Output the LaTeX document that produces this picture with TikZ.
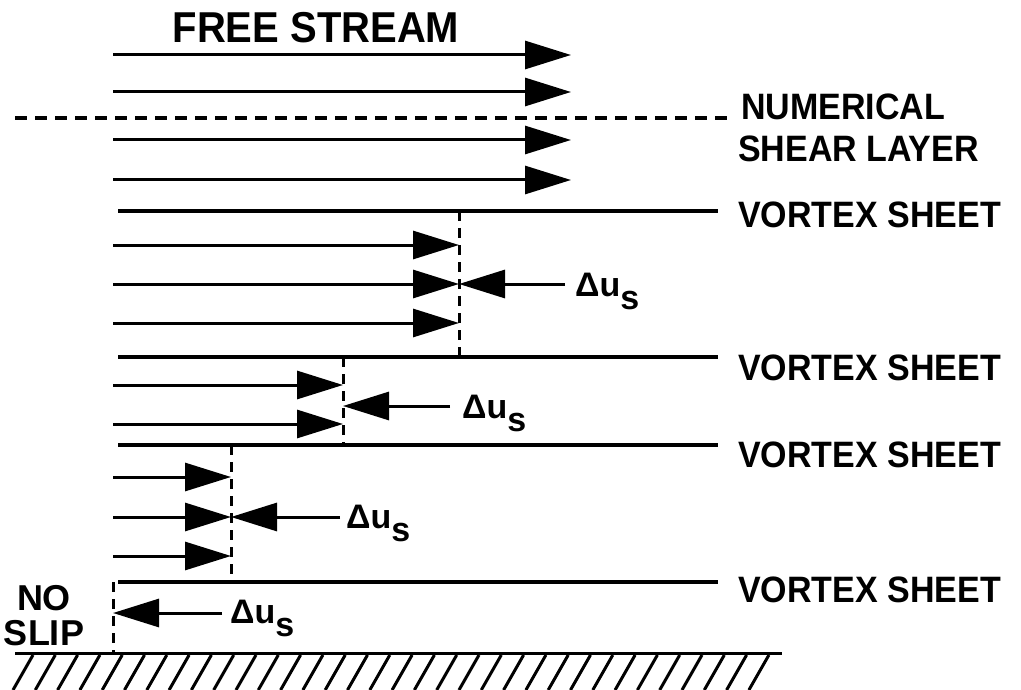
\documentclass[tikz,border=0pt]{standalone}
\usepackage{fontspec}
\setmainfont{Liberation Sans}
\usetikzlibrary{arrows.meta}
\newcommand{\dus}{Δu\raisebox{-13pt}{s}}
\newcommand{\tall}[1]{\scalebox{1}[1.08]{#1}}
\begin{document}
\begin{tikzpicture}[x=1pt,y=-1pt,
  flow/.style={line width=3pt,-{Triangle[length=46pt,width=28pt]}},
  sheet/.style={line width=3.5pt},
  shear/.style={line width=4pt,dash pattern=on 12pt off 8pt},
  slip/.style={line width=3pt,dash pattern=on 10pt off 7pt},
  wall/.style={line width=3pt},
  lbl/.style={inner sep=0pt,anchor=base west,font=\bfseries\fontsize{34}{40}\selectfont},
]
\useasboundingbox (0,0) rectangle (1021,690);

% free stream above the shear layer
\node[lbl,anchor=base,font=\bfseries\fontsize{40}{44}\selectfont] (fs) at (316,43) {\tall{FREE STREAM}};
\foreach \y [count=\i] in {55,92,140,180}{
  \coordinate (fa\i) at (113,\y);
  \coordinate (fb\i) at (571,\y);
  \draw[flow] (fa\i) -- (fb\i);
}
\coordinate (sh0) at (15,118);
\coordinate (sh1) at (728,118);
\draw[shear] (sh0) -- (sh1);
\node[lbl] (nsl1) at (741,120) {\tall{NUMERICAL}};
\node[lbl] (nsl2) at (738,162) {\tall{SHEAR LAYER}};

% vortex sheets
\foreach \y/\b [count=\i] in {211/228,357/380,445/467,582/602}{
  \coordinate (va\i) at (118,\y);
  \coordinate (vb\i) at (718,\y);
  \draw[sheet] (va\i) -- (vb\i);
  \node[lbl] (vl\i) at (738,\b) {\tall{VORTEX SHEET}};
}

% layer between sheets 1 and 2
\coordinate (d1a) at (459,211);
\coordinate (d1b) at (459,357);
\draw[slip] (d1a) -- (d1b);
\foreach \y [count=\i] in {245,284,323}{
  \coordinate (pa\i) at (113,\y);
  \coordinate (pb\i) at (459,\y);
  \draw[flow] (pa\i) -- (pb\i);
}
\coordinate (c1) at (565,284);
\draw[flow] (c1) -- (pb2);
\node[lbl] (du1) at (575,296) {\dus};

% layer between sheets 2 and 3
\coordinate (d2a) at (343,357);
\coordinate (d2b) at (343,445);
\draw[slip] (d2a) -- (d2b);
\foreach \y [count=\i] in {385,424}{
  \coordinate (qa\i) at (113,\y);
  \coordinate (qb\i) at (343,\y);
  \draw[flow] (qa\i) -- (qb\i);
}
\coordinate (c2) at (450,406);
\coordinate (c2t) at (343,406);
\draw[flow] (c2) -- (c2t);
\node[lbl] (du2) at (462,418) {\dus};

% layer between sheets 3 and 4
\coordinate (d3a) at (231,445);
\coordinate (d3b) at (231,582);
\draw[slip] (d3a) -- (d3b);
\foreach \y [count=\i] in {477,517,556}{
  \coordinate (ra\i) at (113,\y);
  \coordinate (rb\i) at (231,\y);
  \draw[flow] (ra\i) -- (rb\i);
}
\coordinate (c3) at (340,517);
\draw[flow] (c3) -- (rb2);
\node[lbl] (du3) at (346,528) {\dus};

% no-slip layer at the wall
\coordinate (d4a) at (113,582);
\coordinate (d4b) at (113,653);
\draw[slip] (d4a) -- (d4b);
\coordinate (c4) at (222,613);
\coordinate (c4t) at (113,613);
\draw[flow] (c4) -- (c4t);
\node[lbl] (du4) at (230,623) {\dus};
\node[lbl,anchor=base,font=\bfseries\fontsize{36}{40}\selectfont] (ns1) at (44,610) {NO};
\node[lbl,anchor=base,font=\bfseries\fontsize{36}{40}\selectfont] (ns2) at (44,645) {SLIP};

% wall with hatching
\coordinate (w0) at (15,653);
\coordinate (w1) at (782,653);
\draw[wall] (w0) -- (w1);
\foreach \i in {0,...,33}{
  \draw[wall] (33+22.3*\i,655) -- (13+22.3*\i,690);
}
\end{tikzpicture}
\end{document}
